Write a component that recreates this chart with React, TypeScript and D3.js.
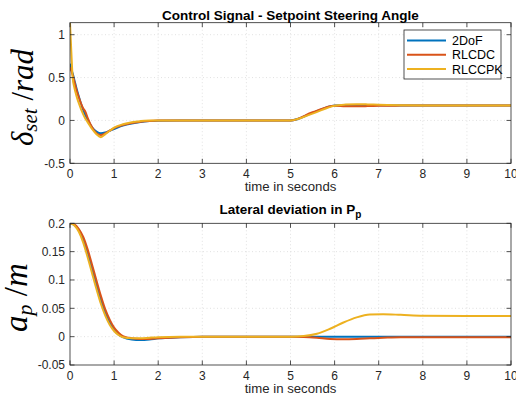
import React, { useEffect, useRef } from "react";
import * as d3 from "d3";

// ---- data ----
const timeTop = [0, 0.03, 0.06, 0.1, 0.15, 0.2, 0.3, 0.35, 0.4, 0.5, 0.6, 0.7, 0.8, 0.9, 1.0, 1.2, 1.4, 1.6, 1.8, 2.0, 2.5, 3, 4, 5, 5.5, 6, 6.25, 6.5, 6.75, 7, 7.5, 8, 9, 10];
const steer2DoF = [0.66, 0.6, 0.55, 0.47, 0.37, 0.28, 0.12, 0.06, 0.01, -0.08, -0.13, -0.15, -0.14, -0.12, -0.1, -0.06, -0.035, -0.018, -0.008, -0.003, 0, 0, 0, 0, 0.088, 0.175, 0.178, 0.178, 0.177, 0.176, 0.175, 0.175, 0.175, 0.175];
const steerRLCDC = [0.62, 0.58, 0.53, 0.45, 0.35, 0.27, 0.14, 0.1, 0.03, -0.08, -0.15, -0.17, -0.15, -0.12, -0.09, -0.055, -0.03, -0.015, -0.006, -0.002, 0, 0, 0, 0, 0.095, 0.172, 0.166, 0.165, 0.167, 0.17, 0.173, 0.175, 0.175, 0.175];
const steerRLCCPK = [1.14, 0.8, 0.5, 0.38, 0.28, 0.2, 0.07, 0.02, -0.02, -0.1, -0.16, -0.195, -0.16, -0.12, -0.085, -0.045, -0.02, -0.008, -0.002, 0, 0, 0, 0, 0, 0.08, 0.172, 0.185, 0.19, 0.187, 0.182, 0.177, 0.175, 0.175, 0.175];

const timeBottom = [0, 0.1, 0.2, 0.3, 0.4, 0.5, 0.6, 0.7, 0.8, 0.9, 1.0, 1.1, 1.2, 1.4, 1.6, 1.8, 2.0, 2.5, 3, 4, 5, 5.3, 5.6, 5.9, 6.2, 6.5, 6.8, 7.1, 7.5, 8, 9, 10];
const dev2DoF = [0.2, 0.197, 0.188, 0.172, 0.148, 0.12, 0.092, 0.065, 0.042, 0.025, 0.012, 0.004, -0.001, -0.005, -0.006, -0.005, -0.003, -0.001, 0, 0, 0, 0, 0, 0, 0, 0, 0, 0, 0, 0, 0, 0];
const devRLCDC = [0.2, 0.198, 0.19, 0.176, 0.154, 0.127, 0.099, 0.072, 0.048, 0.03, 0.016, 0.007, 0.001, -0.003, -0.004, -0.004, -0.003, -0.001, 0, 0, 0, -0.0005, -0.002, -0.004, -0.0045, -0.004, -0.003, -0.002, -0.001, -0.001, -0.001, -0.001];
const devRLCCPK = [0.2, 0.196, 0.185, 0.166, 0.14, 0.112, 0.084, 0.058, 0.037, 0.021, 0.01, 0.003, -0.001, -0.003, -0.003, -0.002, -0.001, 0, 0, 0, 0, 0.001, 0.005, 0.014, 0.025, 0.034, 0.039, 0.0395, 0.0385, 0.037, 0.0365, 0.0365];

const seriesNames = ["2DoF", "RLCDC", "RLCCPK"];
const seriesColors = ["#0072BD", "#D95319", "#EDB120"];
const xTicks = [0, 1, 2, 3, 4, 5, 6, 7, 8, 9, 10];
const yTicksTop = [-0.5, 0, 0.5, 1];
const yTicksBottom = [-0.05, 0, 0.05, 0.1, 0.15, 0.2];

const W = 516;
const H = 401;
const axisColor = "#262626";
const font = "'Liberation Sans', Arial, sans-serif";
const serif = "'Liberation Serif', 'DejaVu Serif', serif";

const App = () => {
  const ref = useRef<SVGSVGElement>(null);

  useEffect(() => {
    draw();
  });

  const drawPanel = (
    svg: d3.Selection<SVGSVGElement, unknown, null, undefined>,
    id: string,
    top: number,
    bottom: number,
    yDomain: [number, number],
    yTicks: number[],
    time: number[],
    series: number[][]
  ) => {
    const left = 70;
    const right = 511;
    const x = d3.scaleLinear().domain([0, 10]).range([left, right]);
    const y = d3.scaleLinear().domain(yDomain).range([bottom, top]);

    const g = svg.append("g");

    // grid
    g.selectAll(".gx")
      .data(xTicks.slice(1, -1))
      .enter()
      .append("line")
      .attr("x1", (d) => x(d))
      .attr("x2", (d) => x(d))
      .attr("y1", top)
      .attr("y2", bottom)
      .attr("stroke", "#d9d9d9")
      .attr("stroke-width", 0.8)
      .attr("stroke-dasharray", "1,2.5");
    g.selectAll(".gy")
      .data(yTicks.filter((d) => y(d) > top + 1 && y(d) < bottom - 1))
      .enter()
      .append("line")
      .attr("x1", left)
      .attr("x2", right)
      .attr("y1", (d) => y(d))
      .attr("y2", (d) => y(d))
      .attr("stroke", "#d9d9d9")
      .attr("stroke-width", 0.8)
      .attr("stroke-dasharray", "1,2.5");

    // lines
    svg
      .append("clipPath")
      .attr("id", id)
      .append("rect")
      .attr("x", left)
      .attr("y", top)
      .attr("width", right - left)
      .attr("height", bottom - top);

    const line = d3
      .line<number>()
      .x((_, i) => x(time[i]))
      .y((d) => y(d))
      .curve(d3.curveMonotoneX);

    series.forEach((s, i) => {
      g.append("path")
        .datum(s)
        .attr("clip-path", `url(#${id})`)
        .attr("fill", "none")
        .attr("stroke", seriesColors[i])
        .attr("stroke-width", 2)
        .attr("d", line);
    });

    // box
    g.append("rect")
      .attr("x", left)
      .attr("y", top)
      .attr("width", right - left)
      .attr("height", bottom - top)
      .attr("fill", "none")
      .attr("stroke", axisColor)
      .attr("stroke-width", 0.8);

    // ticks
    const tl = 4.5;
    xTicks.forEach((t) => {
      g.append("line")
        .attr("x1", x(t)).attr("x2", x(t))
        .attr("y1", bottom).attr("y2", bottom - tl)
        .attr("stroke", axisColor).attr("stroke-width", 0.8);
      g.append("line")
        .attr("x1", x(t)).attr("x2", x(t))
        .attr("y1", top).attr("y2", top + tl)
        .attr("stroke", axisColor).attr("stroke-width", 0.8);
      g.append("text")
        .attr("x", x(t))
        .attr("y", bottom + 15)
        .attr("text-anchor", "middle")
        .attr("font-family", font)
        .attr("font-size", 12)
        .attr("fill", axisColor)
        .text(String(t));
    });
    yTicks.forEach((t) => {
      g.append("line")
        .attr("x1", left).attr("x2", left + tl)
        .attr("y1", y(t)).attr("y2", y(t))
        .attr("stroke", axisColor).attr("stroke-width", 0.8);
      g.append("line")
        .attr("x1", right).attr("x2", right - tl)
        .attr("y1", y(t)).attr("y2", y(t))
        .attr("stroke", axisColor).attr("stroke-width", 0.8);
      g.append("text")
        .attr("x", left - 5)
        .attr("y", y(t) + 4.3)
        .attr("text-anchor", "end")
        .attr("font-family", font)
        .attr("font-size", 12)
        .attr("fill", axisColor)
        .text(String(t));
    });

    // x label
    g.append("text")
      .attr("x", (left + right) / 2)
      .attr("y", bottom + 28)
      .attr("text-anchor", "middle")
      .attr("font-family", font)
      .attr("font-size", 13.2)
      .attr("fill", axisColor)
      .text("time in seconds");

    return g;
  };

  const draw = () => {
    const svg = d3.select(ref.current!);
    svg.selectAll("*").remove();

    svg.append("rect").attr("width", W).attr("height", H).attr("fill", "#fff");

    // top panel
    drawPanel(svg, "clipTop", 22.7, 163.3, [-0.5, 1.14], yTicksTop, timeTop, [
      steer2DoF,
      steerRLCDC,
      steerRLCCPK,
    ]);
    svg
      .append("text")
      .attr("x", 290.5)
      .attr("y", 20)
      .attr("text-anchor", "middle")
      .attr("font-family", font)
      .attr("font-size", 13.5)
      .attr("font-weight", "bold")
      .attr("fill", "#000")
      .text("Control Signal - Setpoint Steering Angle");

    // y label top
    const yl1 = svg
      .append("text")
      .attr("transform", "translate(33,97.5) rotate(-90)")
      .attr("text-anchor", "middle")
      .attr("font-family", serif)
      .attr("font-style", "italic")
      .attr("font-size", 31)
      .attr("fill", "#000");
    yl1.append("tspan").text("\u03b4");
    yl1.append("tspan").attr("font-size", 21).attr("dy", 4).text("set");
    yl1.append("tspan").attr("dy", -4).attr("font-style", "normal").text(" /");
    yl1.append("tspan").text("rad");

    // legend
    const lg = svg.append("g");
    lg.append("rect")
      .attr("x", 404)
      .attr("y", 30)
      .attr("width", 97)
      .attr("height", 49)
      .attr("fill", "#fff")
      .attr("stroke", axisColor)
      .attr("stroke-width", 0.8);
    seriesNames.forEach((n, i) => {
      const yy = 40.5 + i * 14.3;
      lg.append("line")
        .attr("x1", 407)
        .attr("x2", 446)
        .attr("y1", yy)
        .attr("y2", yy)
        .attr("stroke", seriesColors[i])
        .attr("stroke-width", 2);
      lg.append("text")
        .attr("x", 452)
        .attr("y", yy + 4.5)
        .attr("font-family", font)
        .attr("font-size", 12.5)
        .attr("fill", "#000")
        .text(n);
    });

    // bottom panel
    drawPanel(svg, "clipBottom", 223.3, 365, [-0.05, 0.2], yTicksBottom, timeBottom, [
      dev2DoF,
      devRLCDC,
      devRLCCPK,
    ]);
    const t2 = svg
      .append("text")
      .attr("x", 290.5)
      .attr("y", 213.5)
      .attr("text-anchor", "middle")
      .attr("font-family", font)
      .attr("font-size", 13.5)
      .attr("font-weight", "bold")
      .attr("fill", "#000");
    t2.append("tspan").text("Lateral deviation in P");
    t2.append("tspan").attr("font-size", 10).attr("dy", 4).text("p");

    const yl2 = svg
      .append("text")
      .attr("transform", "translate(27,297.5) rotate(-90)")
      .attr("text-anchor", "middle")
      .attr("font-family", serif)
      .attr("font-style", "italic")
      .attr("font-size", 33)
      .attr("fill", "#000");
    yl2.append("tspan").text("a");
    yl2.append("tspan").attr("font-size", 22).attr("dy", 5).text("p");
    yl2.append("tspan").attr("dy", -5).attr("font-style", "normal").text(" /");
    yl2.append("tspan").text("m");
  };

  return (
    <div style={{ position: "absolute", left: 0, top: 0 }}>
      <svg ref={ref} width={W} height={H} style={{ display: "block" }} />
    </div>
  );
};

export default App;
